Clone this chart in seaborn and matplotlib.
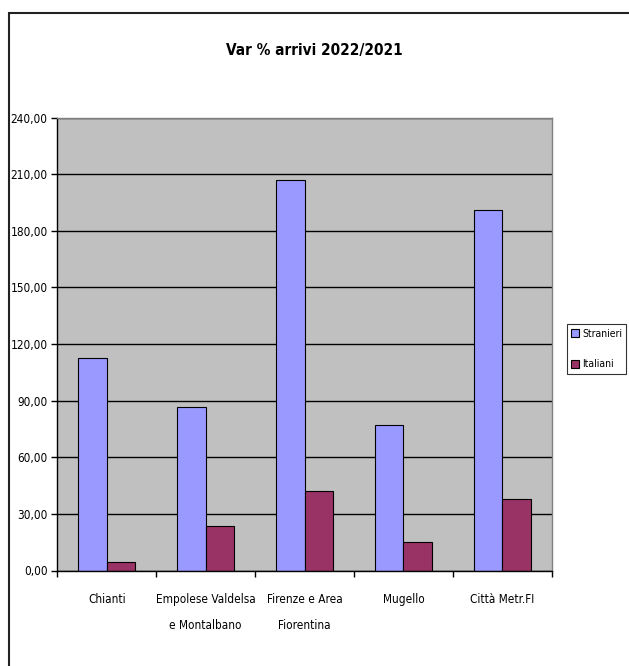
import matplotlib
matplotlib.use("Agg")
import matplotlib.pyplot as plt
from matplotlib.patches import Rectangle
from matplotlib.ticker import FuncFormatter, MultipleLocator, FixedLocator
import seaborn as sns
import pandas as pd

# Data: % change in arrivals 2022 vs 2021 by area
areas = ["Chianti", "Empolese Valdelsa\ne Montalbano", "Firenze e Area\nFiorentina",
         "Mugello", "Città Metr.FI"]
stranieri = [112.5, 86.7, 207.0, 77.1, 190.9]
italiani = [4.5, 23.8, 41.9, 15.0, 38.1]
series = ["Stranieri", "Italiani"]
colors = ["#9999FF", "#993366"]

df = pd.DataFrame({
    "area": areas * 2,
    "serie": [series[0]] * len(areas) + [series[1]] * len(areas),
    "valore": stranieri + italiani,
})

sns.set_theme(style="white")
plt.rcParams["font.family"] = ["DejaVu Sans"]
plt.rcParams["font.stretch"] = "condensed"
plt.rcParams["text.color"] = "black"
plt.rcParams["xtick.color"] = "black"
plt.rcParams["ytick.color"] = "black"

W, H = 629, 666
fig = plt.figure(figsize=(W / 100, H / 100), dpi=100)
fig.patch.set_facecolor("white")

left, right, top, bottom = 57.3, 551.7, 117.5, 570.5
ax = fig.add_axes([left / W, 1 - bottom / H, (right - left) / W, (bottom - top) / H])
ax.set_facecolor("#C0C0C0")

sns.barplot(data=df, x="area", y="valore", hue="serie", palette=colors,
            width=0.576, gap=0, edgecolor="black", linewidth=0.8,
            saturation=1, ax=ax, legend=True)

ax.set_ylim(0, 240)
ax.set_xlim(-0.5, len(areas) - 0.5)
ax.yaxis.set_major_locator(MultipleLocator(30))
ax.yaxis.set_major_formatter(FuncFormatter(lambda v, p: f"{v:.2f}".replace(".", ",")))
ax.grid(axis="y", color="black", linewidth=1)
ax.set_axisbelow(True)
ax.set_xlabel("")
ax.set_ylabel("")

# category separators as outward tick marks on the x axis
ax.xaxis.set_minor_locator(FixedLocator([i - 0.5 for i in range(len(areas) + 1)]))
ax.tick_params(axis="x", which="major", length=0, pad=16, labelsize=8.5)
ax.tick_params(axis="x", which="minor", length=4, width=1, color="black", direction="out", bottom=True)
ax.tick_params(axis="y", which="major", length=4, width=1, color="black", direction="out",
               left=True, pad=3, labelsize=8.5)
for lbl in ax.get_xticklabels():
    lbl.set_linespacing(2.3)

for side in ["left", "bottom"]:
    ax.spines[side].set_color("black")
    ax.spines[side].set_linewidth(1)
for side in ["top", "right"]:
    ax.spines[side].set_color("#808080")
    ax.spines[side].set_linewidth(1)

leg = ax.legend(loc="center left", bbox_to_anchor=(566.7 / W, 1 - 349 / H),
                bbox_transform=fig.transFigure, frameon=True, fancybox=False,
                fontsize=7.5, handlelength=0.8, handleheight=0.8, handletextpad=0.3,
                borderpad=0.4, labelspacing=2.0, borderaxespad=0)
leg.get_frame().set_edgecolor("black")
leg.get_frame().set_linewidth(0.8)

fig.text(314.5 / W, 1 - 50 / H, "Var % arrivi 2022/2021", ha="center", va="center",
         fontsize=11, fontweight="bold")

# outer chart frame
fig.patches.append(Rectangle((8.5 / W, -0.1), 1.2, 1.1 - 13 / H, transform=fig.transFigure,
                             fill=False, edgecolor="#222222", linewidth=1.5))

fig.savefig("out.png", dpi=100)
